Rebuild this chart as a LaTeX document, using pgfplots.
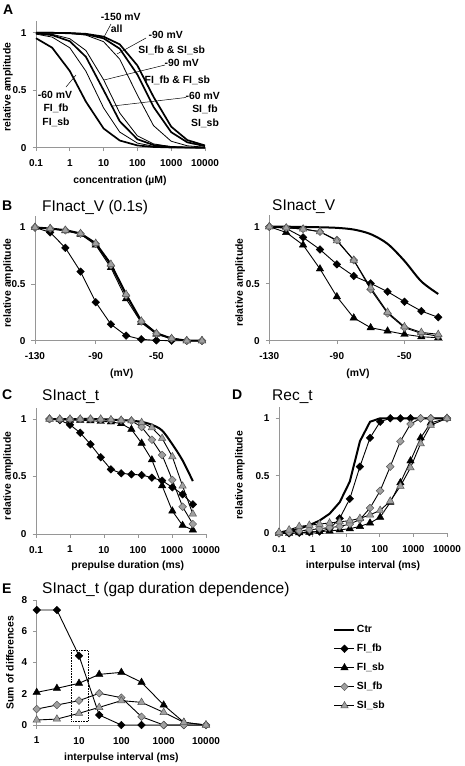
\documentclass[border=0pt]{standalone}
\usepackage{fontspec}
\setmainfont{Liberation Sans}
\usepackage{pgfplots}
\pgfplotsset{compat=1.18}
\definecolor{mgray}{RGB}{160,160,160}
\definecolor{mdark}{RGB}{85,85,85}
\definecolor{axgray}{RGB}{150,150,150}
\newcommand{\lab}{\bfseries\fontsize{10.4}{12}\selectfont}
\newcommand{\tck}{\bfseries\fontsize{10}{11}\selectfont}
\newcommand{\ttl}{\fontsize{15.5}{18}\selectfont}
\newcommand{\pl}{\bfseries\fontsize{14}{16}\selectfont}
\pgfplotsset{
  panel/.style={
    scale only axis, anchor=south west, clip=false,
    axis lines*=left,
    axis line style={axgray, line width=0.7pt, -},
    every tick/.style={axgray, line width=0.7pt},
    tick align=outside, major tick length=3.5pt,
    xminorticks=false, yminorticks=false,
    tick label style={font=\tck},
    xticklabel style={yshift=-5pt},
    yticklabel style={xshift=-2.5pt},
    label style={font=\lab},
    /pgf/number format/assume math mode=true,
    ymin=0,
  },
  ctr/.style={black, line width=2pt, mark=none},
  athick/.style={black, line width=1.7pt, mark=none},
  athin/.style={black, line width=0.8pt, mark=none},
  fifb/.style={black, line width=0.9pt, mark=square*, mark size=2.7pt, mark options={rotate=45, fill=black, draw=black, line width=0.4pt, solid}},
  fisb/.style={black, line width=0.9pt, mark=triangle*, mark size=4.3pt, mark options={fill=black, draw=black, line width=0.4pt, solid}},
  sifb/.style={black, line width=0.9pt, mark=square*, mark size=2.7pt, mark options={rotate=45, fill=mgray, draw=mdark, line width=0.5pt, solid}},
  sisb/.style={black, line width=0.9pt, mark=triangle*, mark size=4.3pt, mark options={fill=mgray, draw=mdark, line width=0.5pt, solid}},
}
\begin{document}
\begin{tikzpicture}
\useasboundingbox (0pt,0pt) rectangle (464pt,-766pt);

% ---------------- Panel A ----------------
\begin{axis}[panel, at={(36pt,-147.7pt)}, width=169pt, height=126.5pt,
  xmode=log, xmin=0.1, xmax=10000, ymax=1.1,
  xtick={0.1,1,10,100,1000,10000}, xticklabels={0.1,1,10,100,1000,10000},
  ytick={0,0.5,1},
  xlabel={concentration (µM)}, ylabel={relative amplitude},
  xlabel style={at={(axis description cs:0.497,-0.263)}, anchor=center},
  ylabel style={at={(axis description cs:-0.166,0.48)}, anchor=center}]
\addplot[athick] coordinates {(0.1,0.952) (0.3,0.870) (1,0.667) (3,0.400) (10,0.167) (30,0.0625) (100,0.0196) (300,0.0066) (1000,0.002) (3000,0.0007) (10000,0.0002)};
\addplot[athin] coordinates {(0.1,0.988) (0.3,0.962) (1,0.869) (3,0.665) (10,0.346) (30,0.136) (100,0.040) (300,0.0124) (1000,0.0033) (3000,0.001) (10000,0.0003)};
\addplot[athick] coordinates {(0.1,0.994) (0.3,0.979) (1,0.926) (3,0.790) (10,0.500) (30,0.230) (100,0.0736) (300,0.0232) (1000,0.0063) (3000,0.0019) (10000,0.0005)};
\addplot[athin] coordinates {(0.1,0.996) (0.3,0.986) (1,0.948) (3,0.845) (10,0.591) (30,0.302) (100,0.103) (300,0.0332) (1000,0.0091) (3000,0.0027) (10000,0.0007)};
\addplot[athin] coordinates {(0.1,1.0) (0.3,0.998) (1,0.994) (3,0.979) (10,0.922) (30,0.770) (100,0.457) (300,0.192) (1000,0.0562) (3000,0.0166) (10000,0.0042)};
\addplot[athick] coordinates {(0.1,1.0) (0.3,0.999) (1,0.995) (3,0.986) (10,0.951) (30,0.861) (100,0.636) (300,0.355) (1000,0.135) (3000,0.0467) (10000,0.0137)};
\addplot[athick] coordinates {(0.1,1.0) (0.3,0.999) (1,0.997) (3,0.990) (10,0.966) (30,0.899) (100,0.715) (300,0.442) (1000,0.183) (3000,0.066) (10000,0.0195)};
\end{axis}
\begin{scope}[font=\lab]
\node[anchor=base west, inner sep=0pt, font=\pl] at (3pt,-14.5pt) {A};
\node at (120.7pt,-16.7pt) {-150 mV};
\node at (116.7pt,-28.3pt) {all};
\node at (165.7pt,-35pt) {-90 mV};
\node at (171.7pt,-50pt) {SI\_fb \& SI\_sb};
\node at (181.7pt,-63.3pt) {-90 mV};
\node at (177.3pt,-80pt) {FI\_fb \& FI\_sb};
\node at (202.7pt,-95.7pt) {-60 mV};
\node at (205pt,-109pt) {SI\_fb};
\node at (205pt,-123.3pt) {SI\_sb};
\node at (55pt,-95pt) {-60 mV};
\node at (56pt,-108.3pt) {FI\_fb};
\node at (56pt,-122.3pt) {FI\_sb};
\end{scope}
\draw[black, line width=0.5pt] (111pt,-24pt) -- (104pt,-37pt);
\draw[black, line width=0.5pt] (146pt,-38pt) -- (117pt,-54pt);
\draw[black, line width=0.5pt] (165pt,-65pt) -- (104pt,-80pt);
\draw[black, line width=0.5pt] (186pt,-97.5pt) -- (113pt,-106pt);
\draw[black, line width=0.5pt] (66pt,-87pt) -- (76pt,-75pt);

% ---------------- Panel B left ----------------
\begin{axis}[panel, at={(35pt,-340.7pt)}, width=170pt, height=124.6pt,
  xmin=-130, xmax=-18, ymax=1.1,
  xtick={-130,-90,-50}, ytick={0,0.5,1},
  xlabel={(mV)}, ylabel={relative amplitude},
  xlabel style={at={(axis description cs:0.51,-0.262)}, anchor=center},
  ylabel style={at={(axis description cs:-0.157,0.463)}, anchor=center}]
\addplot[ctr] coordinates {(-130,1.0) (-120,0.99) (-110,0.976) (-100,0.947) (-90,0.86) (-80,0.676) (-70,0.41) (-60,0.174) (-50,0.065) (-40,0.02) (-30,0.0) (-20,0.0)};
\addplot[fifb] coordinates {(-130,1.0) (-120,0.956) (-110,0.82) (-100,0.61) (-90,0.34) (-80,0.145) (-70,0.045) (-60,0.012) (-50,0.003) (-40,0.0) (-30,0.0) (-20,0.0)};
\addplot[fisb] coordinates {(-130,1.0) (-120,0.99) (-110,0.97) (-100,0.94) (-90,0.845) (-80,0.645) (-70,0.37) (-60,0.16) (-50,0.058) (-40,0.018) (-30,0.0) (-20,0.0)};
\addplot[sifb] coordinates {(-130,1.0) (-120,0.99) (-110,0.975) (-100,0.945) (-90,0.855) (-80,0.665) (-70,0.40) (-60,0.17) (-50,0.062) (-40,0.019) (-30,0.0) (-20,0.0)};
\addplot[sisb] coordinates {(-130,1.0) (-120,0.99) (-110,0.976) (-100,0.947) (-90,0.86) (-80,0.676) (-70,0.41) (-60,0.174) (-50,0.065) (-40,0.02) (-30,0.0) (-20,0.0)};
\end{axis}
\node[anchor=base west, inner sep=0pt, font=\pl] at (2pt,-210.5pt) {B};
\node[anchor=base west, inner sep=0pt, font=\ttl] at (42pt,-211pt) {FInact\_V (0.1s)};

% ---------------- Panel B right ----------------
\begin{axis}[panel, at={(269.3pt,-340.7pt)}, width=174pt, height=125.4pt,
  xmin=-130, xmax=-27, ymax=1.1,
  xtick={-130,-90,-50}, ytick={0,0.5,1},
  xlabel={(mV)}, ylabel={relative amplitude},
  xlabel style={at={(axis description cs:0.51,-0.262)}, anchor=center},
  ylabel style={at={(axis description cs:-0.168,0.463)}, anchor=center}]
\addplot[ctr, smooth] coordinates {(-130,1.0) (-120,1.0) (-110,0.998) (-100,0.995) (-90,0.99) (-80,0.975) (-70,0.935) (-60,0.85) (-50,0.70) (-40,0.52) (-30,0.41)};
\addplot[fifb] coordinates {(-130,1.0) (-120,0.985) (-110,0.906) (-100,0.80) (-90,0.67) (-80,0.567) (-70,0.503) (-60,0.43) (-50,0.342) (-40,0.26) (-30,0.205)};
\addplot[fisb] coordinates {(-130,1.0) (-120,0.95) (-110,0.84) (-100,0.63) (-90,0.386) (-80,0.20) (-70,0.114) (-60,0.085) (-50,0.056) (-40,0.035) (-30,0.026)};
\addplot[sifb] coordinates {(-130,1.0) (-120,0.99) (-110,0.98) (-100,0.956) (-90,0.883) (-80,0.707) (-70,0.45) (-60,0.24) (-50,0.114) (-40,0.064) (-30,0.04)};
\addplot[sisb] coordinates {(-130,1.0) (-120,0.99) (-110,0.98) (-100,0.956) (-90,0.877) (-80,0.707) (-70,0.465) (-60,0.25) (-50,0.123) (-40,0.073) (-30,0.056)};
\end{axis}
\node[anchor=base west, inner sep=0pt, font=\ttl] at (272pt,-210.5pt) {SInact\_V};

% ---------------- Panel C ----------------
\begin{axis}[panel, at={(36pt,-534pt)}, width=170pt, height=126.5pt,
  xmode=log, xmin=0.1, xmax=10000, ymax=1.1,
  xtick={0.1,1,10,100,1000,10000}, xticklabels={0.1,1,10,100,1000,10000},
  ytick={0,0.5,1},
  xlabel={prepulse duration (ms)}, ylabel={relative amplitude},
  xlabel style={at={(axis description cs:0.54,-0.253)}, anchor=center},
  ylabel style={at={(axis description cs:-0.163,0.46)}, anchor=center}]
\addplot[ctr, smooth] coordinates {(0.25,1) (0.5,1) (1,1) (2,1) (4,1) (8,0.998) (16,0.995) (32,0.99) (64,0.985) (128,0.975) (256,0.95) (512,0.90) (1024,0.78) (2048,0.64) (4096,0.46)};
\addplot[fifb] coordinates {(0.25,1.0) (0.5,0.99) (1,0.95) (2,0.88) (4,0.78) (8,0.667) (16,0.562) (32,0.528) (64,0.519) (128,0.513) (256,0.49) (512,0.464) (1024,0.406) (2048,0.345) (4096,0.258)};
\addplot[fisb] coordinates {(0.25,1.0) (0.5,0.995) (1,0.99) (2,0.99) (4,0.985) (8,0.98) (16,0.975) (32,0.96) (64,0.91) (128,0.79) (256,0.645) (512,0.42) (1024,0.20) (2048,0.075) (4096,0.035)};
\addplot[sifb] coordinates {(0.25,1.0) (0.5,1.0) (1,1.0) (2,1.0) (4,1.0) (8,0.995) (16,0.99) (32,0.99) (64,0.985) (128,0.93) (256,0.82) (512,0.687) (1024,0.47) (2048,0.237) (4096,0.087)};
\addplot[sisb] coordinates {(0.25,1.0) (0.5,1.0) (1,1.0) (2,1.0) (4,1.0) (8,1.0) (16,0.995) (32,0.99) (64,0.985) (128,0.97) (256,0.925) (512,0.832) (1024,0.672) (2048,0.417) (4096,0.174)};
\end{axis}
\node[anchor=base west, inner sep=0pt, font=\pl] at (2pt,-399.5pt) {C};
\node[anchor=base west, inner sep=0pt, font=\ttl] at (42pt,-400pt) {SInact\_t};

% ---------------- Panel D ----------------
\begin{axis}[panel, at={(279pt,-533.3pt)}, width=168pt, height=126.5pt,
  xmode=log, xmin=0.1, xmax=10000, ymax=1.1,
  xtick={0.1,1,10,100,1000,10000}, xticklabels={0.1,1,10,100,1000,10000},
  ytick={0,0.5,1},
  xlabel={interpulse interval (ms)}, ylabel={relative amplitude},
  xlabel style={at={(axis description cs:0.5,-0.258)}, anchor=center},
  ylabel style={at={(axis description cs:-0.232,0.46)}, anchor=center}]
\addplot[ctr] coordinates {(0.1,0.0) (0.2,0.02) (0.4,0.04) (0.8,0.07) (1.6,0.11) (3.2,0.17) (6.4,0.27) (12.8,0.45) (25.6,0.80) (51.2,0.97) (102.4,1) (204.8,1) (409.6,1) (819.2,1) (1638.4,1) (3276.8,1) (10000,1)};
\addplot[fifb] coordinates {(0.1,0) (0.2,0) (0.4,0.005) (0.8,0.01) (1.6,0.015) (3.2,0.04) (6.4,0.13) (12.8,0.30) (25.6,0.58) (51.2,0.83) (102.4,0.97) (204.8,1) (409.6,1) (819.2,1) (1638.4,1) (3276.8,1) (10000,1)};
\addplot[fisb] coordinates {(0.1,0) (0.2,0) (0.4,0.005) (0.8,0.01) (1.6,0.015) (3.2,0.02) (6.4,0.03) (12.8,0.04) (25.6,0.06) (51.2,0.09) (102.4,0.14) (204.8,0.27) (409.6,0.44) (819.2,0.63) (1638.4,0.83) (3276.8,0.96) (10000,1)};
\addplot[sifb] coordinates {(0.1,0) (0.2,0.01) (0.4,0.02) (0.8,0.03) (1.6,0.04) (3.2,0.05) (6.4,0.06) (12.8,0.08) (25.6,0.12) (51.2,0.22) (102.4,0.37) (204.8,0.58) (409.6,0.80) (819.2,0.95) (1638.4,1) (3276.8,1) (10000,1)};
\addplot[sisb] coordinates {(0.1,0.01) (0.2,0.03) (0.4,0.06) (0.8,0.07) (1.6,0.08) (3.2,0.09) (6.4,0.10) (12.8,0.11) (25.6,0.13) (51.2,0.16) (102.4,0.20) (204.8,0.28) (409.6,0.41) (819.2,0.57) (1638.4,0.78) (3276.8,0.94) (10000,1)};
\end{axis}
\node[anchor=base west, inner sep=0pt, font=\pl] at (232pt,-399.5pt) {D};
\node[anchor=base west, inner sep=0pt, font=\ttl] at (272pt,-400pt) {Rec\_t};

% ---------------- Panel E ----------------
\begin{axis}[panel, at={(36.7pt,-725pt)}, width=169.3pt, height=125pt,
  xmode=log, xmin=1, xmax=10000, ymax=8,
  xtick={1,10,100,1000,10000}, xticklabels={1,10,100,1000,10000},
  ytick={0,2,4,6,8},
  xlabel={interpulse interval (ms)}, ylabel={Sum of differences},
  xlabel style={at={(axis description cs:0.5,-0.262)}, anchor=center},
  ylabel style={at={(axis description cs:-0.158,0.5)}, anchor=center},
  legend style={at={(axis description cs:1.752,0.81)}, anchor=north west, draw=none, fill=none, font=\lab, inner sep=0pt, row sep=7pt, nodes={inner sep=1.5pt}},
  legend cell align=left,
  legend image code/.code={\draw[mark repeat=2, mark phase=2, #1] plot coordinates {(0pt,0pt) (10pt,0pt) (20pt,0pt)};}]
\addlegendimage{ctr}
\addlegendentry{Ctr}
\addplot[fifb] coordinates {(1,7.36) (3,7.36) (10,4.43) (30,0.64) (100,0) (300,0) (1000,0) (3000,0) (10000,0)};
\addlegendentry{FI\_fb}
\addplot[fisb] coordinates {(1,2.09) (3,2.35) (10,2.67) (30,3.24) (100,3.37) (300,2.73) (1000,1.28) (3000,0.17) (10000,0)};
\addlegendentry{FI\_sb}
\addplot[sifb] coordinates {(1,1.02) (3,1.28) (10,1.56) (30,2.03) (100,1.75) (300,0.53) (1000,0) (3000,0) (10000,0)};
\addlegendentry{SI\_fb}
\addplot[sisb] coordinates {(1,0.32) (3,0.38) (10,0.75) (30,1.13) (100,1.56) (300,1.45) (1000,0.81) (3000,0.17) (10000,0)};
\addlegendentry{SI\_sb}
\draw[black, line width=0.6pt, densely dotted] (axis cs:6.4,0.25) rectangle (axis cs:16.6,4.75);
\end{axis}
\node[anchor=base west, inner sep=0pt, font=\pl] at (2pt,-593pt) {E};
\node[anchor=base west, inner sep=0pt, font=\ttl] at (42pt,-593.5pt) {SInact\_t (gap duration dependence)};
\end{tikzpicture}
\end{document}
